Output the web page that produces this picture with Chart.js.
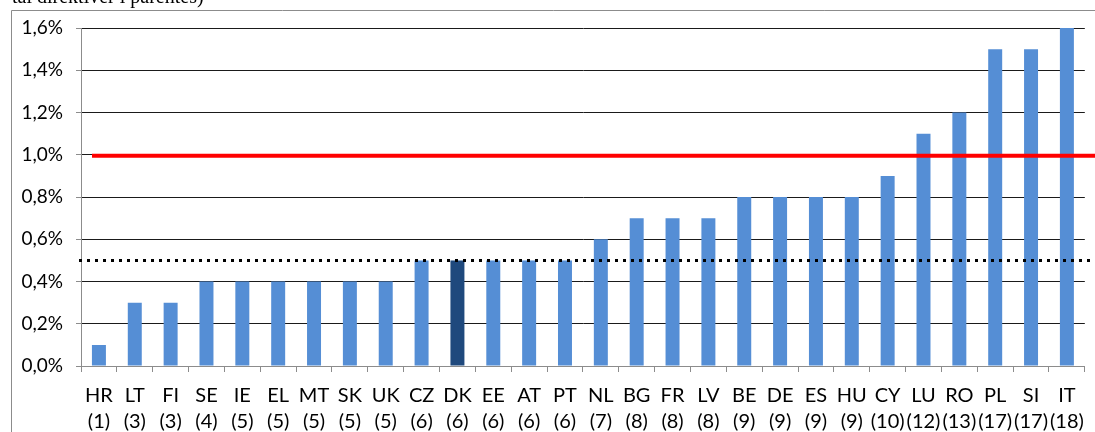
<!DOCTYPE html>
<html>
<head>
<meta charset="utf-8">
<script src="https://cdn.jsdelivr.net/npm/chart.js@4/dist/chart.umd.min.js"></script>
<style>
  html, body { margin: 0; padding: 0; background: #fff; }
  #wrap { position: relative; width: 1095px; height: 432px; }
</style>
</head>
<body>
<div id="wrap"><canvas id="myChart" width="1095" height="432"></canvas></div>
<script>
// country codes and number of directives (in brackets)
const countries = ['HR', 'LT', 'FI', 'SE', 'IE', 'EL', 'MT', 'SK', 'UK', 'CZ', 'DK', 'EE', 'AT', 'PT',
  'NL', 'BG', 'FR', 'LV', 'BE', 'DE', 'ES', 'HU', 'CY', 'LU', 'RO', 'PL', 'SI', 'IT'];
const directives = [1, 3, 3, 4, 5, 5, 5, 5, 5, 6, 6, 6, 6, 6, 7, 8, 8, 8, 9, 9, 9, 9, 10, 12, 13, 17, 17, 18];
const deficit = [0.1, 0.3, 0.3, 0.4, 0.4, 0.4, 0.4, 0.4, 0.4, 0.5, 0.5, 0.5, 0.5, 0.5,
  0.6, 0.7, 0.7, 0.7, 0.8, 0.8, 0.8, 0.8, 0.9, 1.1, 1.2, 1.5, 1.5, 1.6];
const targetLine = 1.0;   // red line
const averageLine = 0.5;  // dotted line
const highlight = 'DK';
const captionText = 'tal direktiver i parentes)';

const labels = countries.map((c, i) => [c, '(' + directives[i] + ')']);
const colors = countries.map(c => c === highlight ? '#1F497D' : '#558ED5');

const fontFam = 'Lato, "Open Sans", sans-serif';

// frame, caption and the two reference lines
const extras = {
  id: 'extras',
  beforeDraw(chart) {
    const ctx = chart.ctx;
    ctx.save();
    ctx.strokeStyle = '#8c8c8c';
    ctx.lineWidth = 1;
    ctx.beginPath();
    ctx.moveTo(11.5, 440);
    ctx.lineTo(11.5, 10.5);
    ctx.lineTo(1100, 10.5);
    ctx.stroke();
    ctx.fillStyle = '#000';
    ctx.font = '20px "Liberation Serif", serif';
    ctx.textBaseline = 'alphabetic';
    ctx.fillText(captionText, 12, 3);
    ctx.restore();
  },
  afterDatasetsDraw(chart) {
    const ctx = chart.ctx;
    const y = chart.scales.y;
    const area = chart.chartArea;
    ctx.save();
    // dotted average line
    const ya = Math.round(y.getPixelForValue(averageLine)) + 0.5;
    ctx.strokeStyle = '#000';
    ctx.lineWidth = 3;
    ctx.setLineDash([3, 5]);
    ctx.beginPath();
    ctx.moveTo(area.left - 2, ya);
    ctx.lineTo(1095, ya);
    ctx.stroke();
    // red target line
    const yt = y.getPixelForValue(targetLine) + 1;
    ctx.setLineDash([]);
    ctx.strokeStyle = '#FF0000';
    ctx.lineWidth = 4;
    ctx.beginPath();
    ctx.moveTo(area.left + 11, yt);
    ctx.lineTo(1095, yt);
    ctx.stroke();
    ctx.restore();
  }
};

const ctx = document.getElementById('myChart').getContext('2d');
new Chart(ctx, {
  type: 'bar',
  data: {
    labels: labels,
    datasets: [{
      data: deficit,
      backgroundColor: colors,
      barPercentage: 0.39,
      categoryPercentage: 1.0,
    }],
  },
  options: {
    responsive: false,
    animation: false,
    layout: { padding: { top: 28, right: 9, bottom: 0, left: 0 } },
    plugins: {
      legend: { display: false },
      tooltip: { enabled: false },
    },
    scales: {
      y: {
        min: 0,
        max: 1.6,
        afterFit: s => { s.width = 81; },
        border: { color: '#8c8c8c', width: 1 },
        grid: {
          color: ctx => ctx.tick && ctx.tick.value === 0 ? '#8c8c8c' : '#1a1a1a',
          tickColor: '#8c8c8c',
          tickLength: 5,
          lineWidth: 1,
        },
        ticks: {
          stepSize: 0.2,
          padding: 13,
          color: '#000',
          font: { family: fontFam, size: 19 },
          callback: v => v.toFixed(1).replace('.', ',') + '%',
        },
      },
      x: {
        afterFit: s => { s.height = 66; },
        border: { color: '#8c8c8c', width: 1 },
        grid: {
          offset: true,
          drawOnChartArea: false,
          color: '#8c8c8c',
          tickLength: 6,
        },
        ticks: {
          autoSkip: false,
          maxRotation: 0,
          minRotation: 0,
          padding: 11,
          color: '#000',
          font: { family: fontFam, size: 20, lineHeight: 1.3 },
        },
      },
    },
  },
  plugins: [extras],
});
</script>
</body>
</html>
